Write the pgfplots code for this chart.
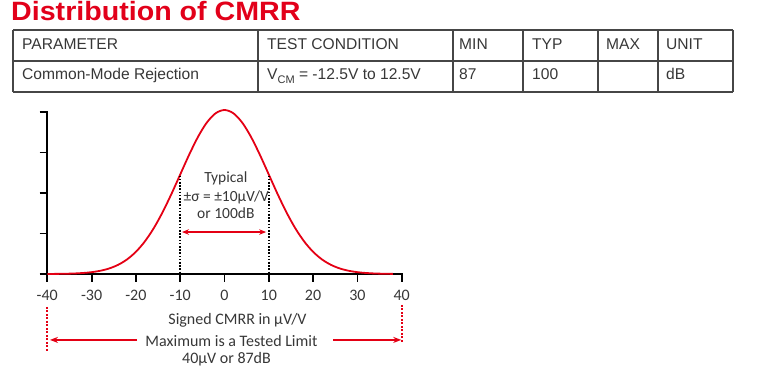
\documentclass[border=0pt]{standalone}
\usepackage{fontspec}
\usepackage{pgfplots}
\pgfplotsset{compat=1.18}
\usetikzlibrary{arrows.meta}
\setmainfont{Liberation Sans}
\newfontfamily\carlito{Carlito}
\newfontfamily\titlefont[FakeStretch=1.08]{Liberation Sans}
\definecolor{ttlred}{RGB}{226,0,26}
\definecolor{crvred}{RGB}{228,0,20}
\definecolor{txtgray}{RGB}{55,55,55}
\definecolor{lngray}{RGB}{70,70,70}
\begin{document}
\begin{tikzpicture}[x=1pt,y=1pt]
\path[use as bounding box] (0,0) rectangle (767,377);
% title
\node[anchor=base west, inner sep=0, text=ttlred, font=\titlefont\bfseries\fontsize{26.5}{30}\selectfont] at (11,356) {Distribution of CMRR};
% table
\begin{scope}[draw=lngray, line width=1.3pt]
\draw (13,347) -- (733,347);
\draw (13,316) -- (733,316);
\draw (13,285) -- (733,285);
\foreach \xx in {13,258,453,523,598,658,733} {\draw (\xx,347) -- (\xx,285);}
\end{scope}
\begin{scope}[every node/.style={anchor=base west, inner sep=0, text=txtgray, font=\fontsize{15.6}{18}\selectfont}]
\node at (22,327.7) {PARAMETER};
\node at (267,327.7) {TEST CONDITION};
\node at (459,327.7) {MIN};
\node at (532,327.7) {TYP};
\node at (606,327.7) {MAX};
\node at (666,327.7) {UNIT};
\node at (22,297) {Common-Mode Rejection};
\node at (267,297) {V\raisebox{-0.25em}{\fontsize{11}{12}\selectfont CM} = -12.5V to 12.5V};
\node at (459,297) {87};
\node at (532,297) {100};
\node at (666,297) {dB};
\end{scope}
% plot
\begin{axis}[
  at={(47.3pt,103pt)}, anchor=south west,
  scale only axis, width=354.4pt, height=164pt,
  xmin=-40, xmax=40, ymin=0, ymax=100,
  axis x line=bottom, axis y line=left,
  axis line style={draw=none},
  tick align=outside,
  major tick length=8pt,
  tick style={draw=none},
  xtick={-40,-30,-20,-10,0,10,20,30,40},
  xticklabels={-40,-30,-20,-10,0,10,20,30,40},
  ytick={0,24.7,49.4,74.1,98.8},
  yticklabels={},
  xticklabel style={font=\carlito\fontsize{16}{18}\selectfont, text=txtgray, yshift=-5pt},
  clip=false,
]
% axis lines and tick marks
\addplot[black, line width=1.8pt, line cap=rect] coordinates {(-40,98.8) (-40,0) (40,0)};
\pgfplotsinvokeforeach{-40,-30,-20,-10,0,10,20,30,40}{
  \addplot[black, line width=1.8pt] coordinates {(#1,0) (#1,-4.9)};
}
\pgfplotsinvokeforeach{0,24.7,49.4,74.1,98.8}{
  \addplot[black, line width=1.8pt] coordinates {(-41.75,#1) (-40,#1)};
}
\addplot[crvred, line width=1.8pt, smooth] coordinates {
(-40,0.03) (-38,0.07) (-36,0.15) (-34,0.31) (-32,0.60) (-30,1.11) (-28,1.98) (-26,3.40) (-24,5.61) (-22,8.89) (-20,13.53) (-18,19.79) (-16,27.80) (-14,37.53) (-12,48.68) (-10,60.65) (-8,72.61) (-6,83.53) (-4,92.31) (-2,98.02) (0,100) (2,98.02) (4,92.31) (6,83.53) (8,72.61) (10,60.65) (12,48.68) (14,37.53) (16,27.80) (18,19.79) (20,13.53) (22,8.89) (24,5.61) (26,3.40) (28,1.98) (30,1.11) (32,0.60) (34,0.31) (36,0.15) (38,0.07)
};
\addplot[black, line width=1.6pt, dash pattern=on 1.6pt off 1.6pt] coordinates {(-10,60) (-10,0)};
\addplot[black, line width=1.6pt, dash pattern=on 1.6pt off 1.6pt] coordinates {(10,60) (10,0)};
\addplot[crvred, line width=1.5pt, {Stealth[length=7pt,width=5.5pt]}-{Stealth[length=7pt,width=5.5pt]}] coordinates {(-9.6,25.6) (9.4,25.6)};
% bottom limit markers
\addplot[crvred, line width=1.8pt, dash pattern=on 2pt off 1.5pt] coordinates {(-40,-20.1) (-40,-47.6)};
\addplot[crvred, line width=1.8pt, dash pattern=on 2pt off 1.5pt] coordinates {(40,-18.9) (40,-41.5)};
\addplot[crvred, line width=1.5pt, -{Stealth[length=8pt,width=6pt]}] coordinates {(-19.7,-40.2) (-39.4,-40.2)};
\addplot[crvred, line width=1.5pt, -{Stealth[length=8pt,width=6pt]}] coordinates {(24.5,-40.2) (39.9,-40.2)};
\node[text=txtgray, font=\carlito\fontsize{15.5}{16}\selectfont, inner sep=0] at (axis cs:0.3,58.5) {Typical};
\node[text=txtgray, font=\carlito\fontsize{15.5}{16}\selectfont, inner sep=0] at (axis cs:0.4,47) {±σ = ±10µV/V};
\node[text=txtgray, font=\carlito\fontsize{15.5}{16}\selectfont, inner sep=0] at (axis cs:0.3,37.2) {or 100dB};
\end{axis}
\node[text=txtgray, font=\carlito\fontsize{16}{18}\selectfont, inner sep=0] at (237.5,57) {Signed CMRR in µV/V};
\node[text=txtgray, font=\carlito\fontsize{16}{18}\selectfont, inner sep=0] at (231.5,36) {Maximum is a Tested Limit};
\node[text=txtgray, font=\carlito\fontsize{16}{18}\selectfont, inner sep=0] at (226.5,18) {40µV or 87dB};
\end{tikzpicture}
\end{document}
